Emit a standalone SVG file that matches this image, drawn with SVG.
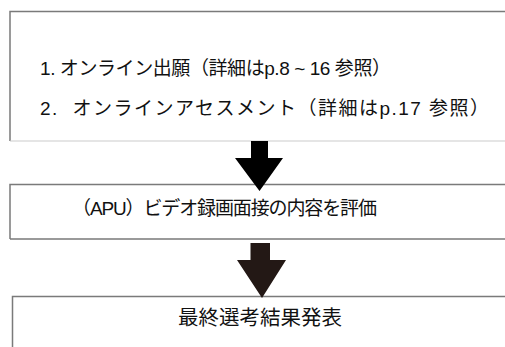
<svg xmlns="http://www.w3.org/2000/svg" width="505" height="347" viewBox="0 0 505 347">
<style>
.t{font-family:"Liberation Sans","Noto Sans CJK JP",sans-serif;fill:#111111}
.dk{stroke:#7a7a7a;stroke-width:1.5;fill:none}
.lt{stroke:#cccccc;stroke-width:1.2;fill:none}
</style>
<rect width="505" height="347" fill="#ffffff"/>
<g id="node1">
<path class="dk" d="M10 141 V11.5 H510"/>
<path class="lt" d="M10 141 H510"/>
<text class="t" x="40" y="75" font-size="19" textLength="351" lengthAdjust="spacing">1. オンライン出願（詳細はp.8 ~ 16 参照）</text>
<text class="t" x="40" y="115" font-size="19" textLength="449" lengthAdjust="spacing">2. <tspan dx="7">オンラインアセスメント（詳細はp.17 参照）</tspan></text>
</g>
<g id="node2">
<path class="dk" d="M10 239 V184.5 H510 M10 239 H510"/>
<text class="t" x="72" y="214.5" font-size="19" textLength="305" lengthAdjust="spacing">（APU）ビデオ録画面接の内容を評価</text>
</g>
<g id="node3">
<path class="dk" d="M12.5 350 V296.5 H510"/>
<text class="t" x="260" y="325" font-size="20.5" text-anchor="middle">最終選考結果発表</text>
</g>
<g id="connectors">
<polygon points="251,141 268,141 268,158 283,158 259.5,191 235,158 251,158" fill="#000000"/>
<polygon points="250.5,243 270,243 270,260 286,260 262,298 237,260 250.5,260" fill="#231815"/>
</g>
</svg>
